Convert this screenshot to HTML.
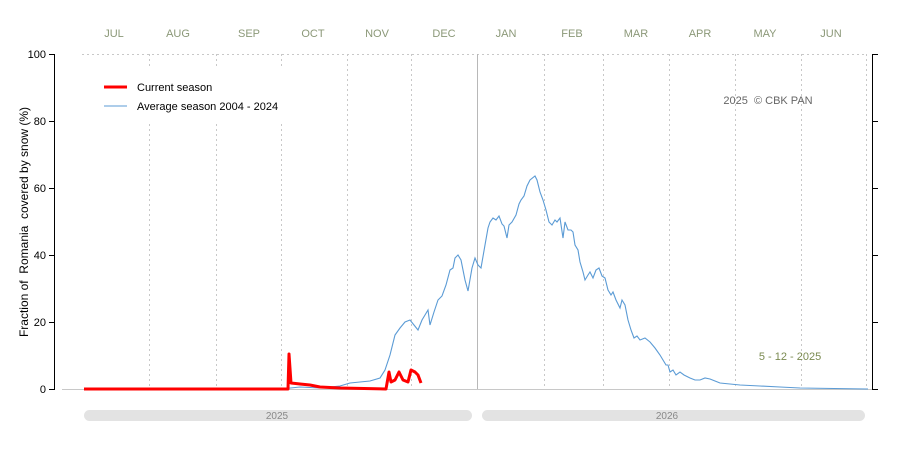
<!DOCTYPE html>
<html><head><meta charset="utf-8"><style>body{margin:0;background:#fff}svg{display:block;font-family:"Liberation Sans",sans-serif}</style></head><body>
<svg width="900" height="450" viewBox="0 0 900 450">
<g fill="#8b9878" font-size="11" text-anchor="middle">
<text x="114" y="37">JUL</text><text x="178" y="37">AUG</text><text x="249" y="37">SEP</text><text x="313" y="37">OCT</text><text x="377" y="37">NOV</text><text x="444" y="37">DEC</text><text x="506" y="37">JAN</text><text x="572" y="37">FEB</text><text x="636" y="37">MAR</text><text x="700" y="37">APR</text><text x="765" y="37">MAY</text><text x="831" y="37">JUN</text>
</g>
<g stroke="#c8c8c8" stroke-dasharray="2,3" fill="none">
<line x1="82" y1="54.5" x2="866" y2="54.5"/>
<line x1="149.5" y1="54" x2="149.5" y2="389"/><line x1="216.5" y1="54" x2="216.5" y2="389"/><line x1="281.5" y1="54" x2="281.5" y2="389"/><line x1="347.5" y1="54" x2="347.5" y2="389"/><line x1="411.5" y1="54" x2="411.5" y2="389"/><line x1="544.5" y1="54" x2="544.5" y2="389"/><line x1="603.5" y1="54" x2="603.5" y2="389"/><line x1="669.5" y1="54" x2="669.5" y2="389"/><line x1="735.5" y1="54" x2="735.5" y2="389"/><line x1="801.5" y1="54" x2="801.5" y2="389"/><line x1="866.5" y1="54" x2="866.5" y2="389"/>
</g>
<rect x="96" y="66" width="200" height="58" fill="#fff"/>
<line x1="477.5" y1="54" x2="477.5" y2="389" stroke="#b8b8b8"/>
<line x1="62" y1="389.5" x2="872" y2="389.5" stroke="#c8c8c8"/>
<g stroke="#000" fill="none">
<line x1="54.5" y1="54" x2="54.5" y2="390"/>
<line x1="49" y1="54.5" x2="54" y2="54.5"/><line x1="49" y1="121.5" x2="54" y2="121.5"/><line x1="49" y1="188.5" x2="54" y2="188.5"/><line x1="49" y1="255.5" x2="54" y2="255.5"/><line x1="49" y1="322.5" x2="54" y2="322.5"/><line x1="49" y1="389.5" x2="54" y2="389.5"/>
<line x1="872.5" y1="54" x2="872.5" y2="390"/>
<line x1="872" y1="54.5" x2="878" y2="54.5"/><line x1="872" y1="121.5" x2="878" y2="121.5"/><line x1="872" y1="188.5" x2="878" y2="188.5"/><line x1="872" y1="255.5" x2="878" y2="255.5"/><line x1="872" y1="322.5" x2="878" y2="322.5"/><line x1="872" y1="389.5" x2="878" y2="389.5"/>
</g>
<g font-size="11" text-anchor="end" fill="#000">
<text x="46" y="58">100</text><text x="46" y="125">80</text><text x="46" y="192">60</text><text x="46" y="259">40</text><text x="46" y="326">20</text><text x="46" y="393">0</text>
</g>
<text transform="translate(28,222) rotate(-90)" font-size="12" text-anchor="middle" xml:space="preserve">Fraction of  Romania  covered by snow (%)</text>
<line x1="104" y1="87" x2="127" y2="87" stroke="#f00" stroke-width="3"/>
<line x1="104" y1="106" x2="127" y2="106" stroke="#5b9bd5" stroke-width="1"/>
<text x="137" y="91" font-size="11">Current season</text>
<text x="137" y="110" font-size="11">Average season 2004 - 2024</text>
<text x="768" y="104" font-size="11" fill="#666" text-anchor="middle" xml:space="preserve">2025  © CBK PAN</text>
<text x="790" y="360" font-size="11" fill="#7a8a50" text-anchor="middle">5 - 12 - 2025</text>
<polyline fill="none" stroke="#5b9bd5" stroke-width="1.1" points="281,389 300,387 320,388 340,386 350,383 360,382 370,381 380,378 385,370 390,355 395,335 400,328 405,322 410,320 414,325 418,330 422,320 425,315 428,310 430,325 434,312 438,300 442,296 446,285 450,270 453,268 455,258 458,255 461,260 465,280 468,291 472,268 475,258 478,265 481,268 485,245 488,228 490,222 493,218 496,220 499,216 502,224 504,226 507,238 509,225 512,222 516,215 519,204 521,200 524,196 527,186 530,180 535,176 537,180 540,192 543,200 546,210 549,222 552,225 555,220 557,222 560,218 563,238 565,222 568,230 571,230 573,232 575,245 578,250 580,262 583,272 585,280 588,275 590,272 593,278 596,270 599,268 602,276 605,278 608,290 611,295 613,292 616,300 620,308 622,300 625,305 628,320 631,330 634,338 637,336 640,340 645,338 650,342 655,348 660,355 663,360 666,365 668,365 670,372 673,370 676,375 680,372 684,375 690,378 695,380 700,380 705,378 710,379 715,381 720,383 730,384 740,385 760,386 780,387 800,388 868,389"/>
<polyline fill="none" stroke="#f00" stroke-width="3" stroke-linejoin="round" points="84,389 288,389 289,354 291,383 300,384 310,385 320,387 340,388 386,389 389,372 391,382 395,380 399,372 403,380 408,382 411,370 415,372 418,375 421,383"/>
<rect x="84" y="410" width="388" height="11" rx="5.5" fill="#e3e3e3"/>
<rect x="482" y="410" width="383" height="11" rx="5.5" fill="#e3e3e3"/>
<text x="277" y="419" font-size="10" fill="#888" text-anchor="middle">2025</text>
<text x="667" y="419" font-size="10" fill="#888" text-anchor="middle">2026</text>
</svg>
</body></html>
